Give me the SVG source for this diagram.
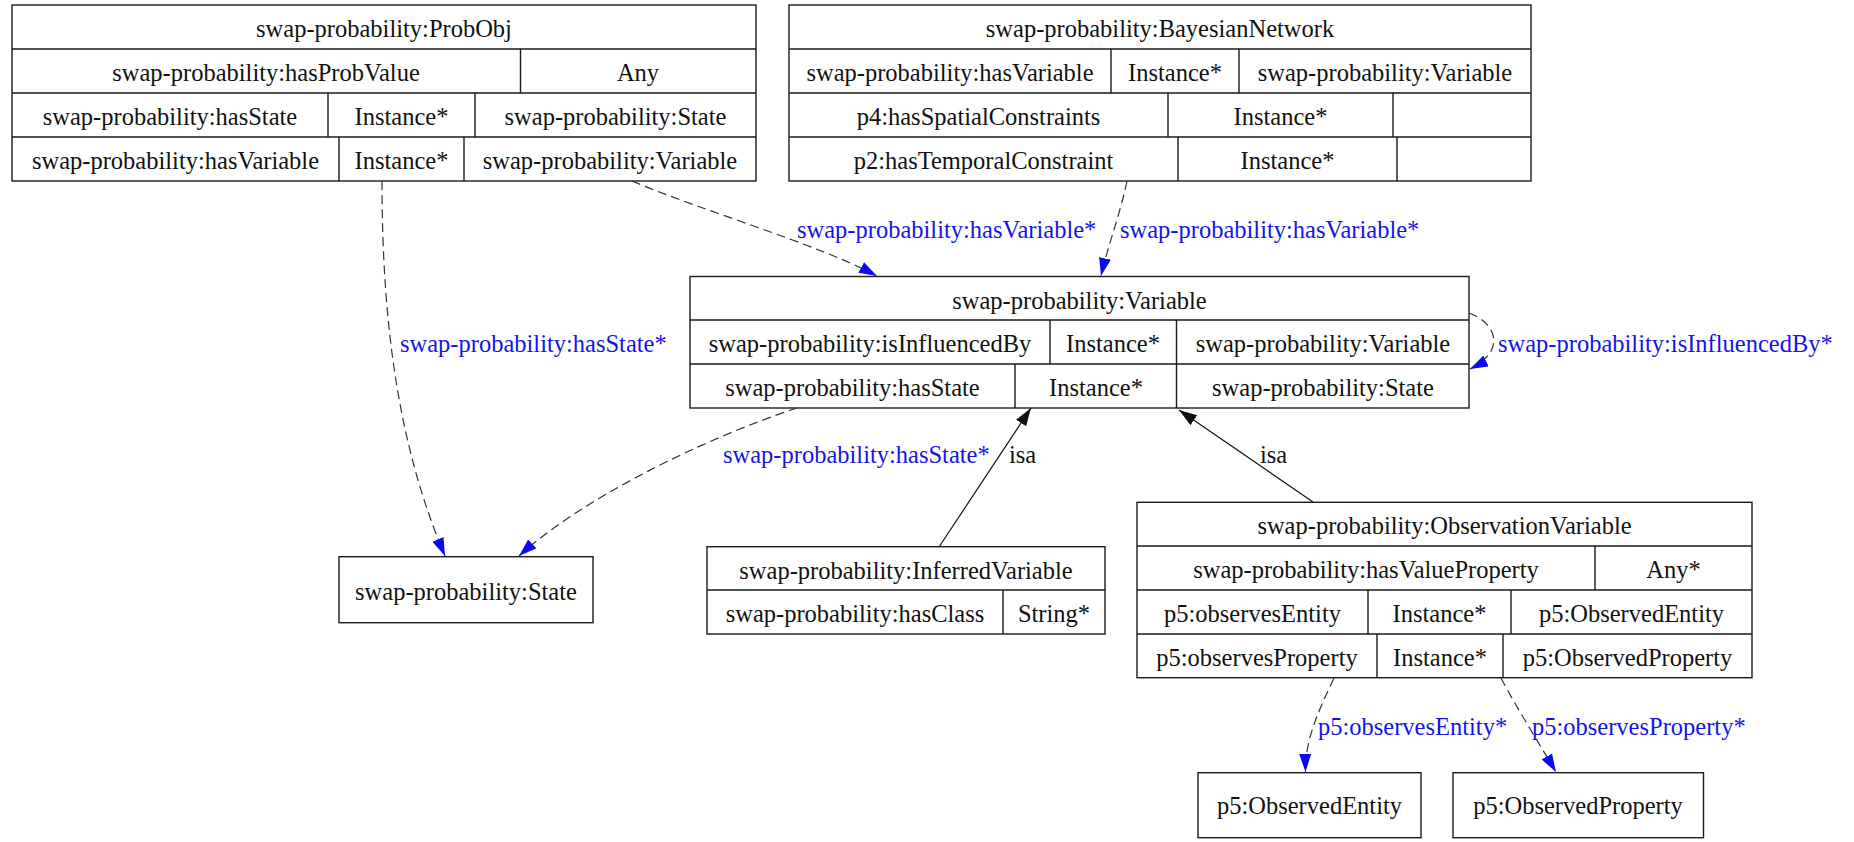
<svg xmlns="http://www.w3.org/2000/svg" width="1854" height="842" viewBox="0 0 1854 842">
  <defs>
    <style>
      .box { fill: #ffffff; stroke: #1a1a1a; stroke-width: 1.4; }
      .div { stroke: #1a1a1a; stroke-width: 1.4; fill: none; }
      text { font-family: "Liberation Serif", "Times New Roman", serif; font-size: 24.5px; fill: #111111; }
      .c { text-anchor: middle; }
      .lbl { fill: #1414e6; }
      .prop { fill: none; stroke: #333333; stroke-width: 1.2; stroke-dasharray: 9 5; marker-end: url(#headBlue); }
      .isa { fill: none; stroke: #111111; stroke-width: 1.2; marker-end: url(#headBlack); }
    </style>
    <marker id="headBlue" markerUnits="userSpaceOnUse" markerWidth="18" markerHeight="12" viewBox="0 0 18 12" refX="18" refY="6" orient="auto">
      <path d="M0,0 L18,6 L0,12 z" fill="#0a0aee"/>
    </marker>
    <marker id="headBlack" markerUnits="userSpaceOnUse" markerWidth="18" markerHeight="12" viewBox="0 0 18 12" refX="18" refY="6" orient="auto">
      <path d="M0,0 L18,6 L0,12 z" fill="#111111"/>
    </marker>
  </defs>

  <rect width="1854" height="842" fill="#ffffff"/>

  <!-- class: ProbObj -->
  <g id="probobj">
    <rect class="box" x="12" y="5" width="744" height="176"/>
    <path class="div" d="M12,49 H756 M12,93 H756 M12,137 H756 M520.5,49 V93 M328,93 V137 M475,93 V137 M339,137 V181 M464,137 V181"/>
    <text class="c" x="384" y="37">swap-probability:ProbObj</text>
    <text class="c" x="266" y="81">swap-probability:hasProbValue</text>
    <text class="c" x="638" y="81">Any</text>
    <text class="c" x="170" y="125">swap-probability:hasState</text>
    <text class="c" x="401.5" y="125">Instance*</text>
    <text class="c" x="615.5" y="125">swap-probability:State</text>
    <text class="c" x="175.5" y="169">swap-probability:hasVariable</text>
    <text class="c" x="401.5" y="169">Instance*</text>
    <text class="c" x="610" y="169">swap-probability:Variable</text>
  </g>

  <!-- class: BayesianNetwork -->
  <g id="bayesiannetwork">
    <rect class="box" x="789" y="5" width="742" height="176"/>
    <path class="div" d="M789,49 H1531 M789,93 H1531 M789,137 H1531 M1111,49 V93 M1239,49 V93 M1168,93 V137 M1393,93 V137 M1178,137 V181 M1397,137 V181"/>
    <text class="c" x="1160" y="37">swap-probability:BayesianNetwork</text>
    <text class="c" x="950" y="81">swap-probability:hasVariable</text>
    <text class="c" x="1175" y="81">Instance*</text>
    <text class="c" x="1385" y="81">swap-probability:Variable</text>
    <text class="c" x="978.5" y="125">p4:hasSpatialConstraints</text>
    <text class="c" x="1280.5" y="125">Instance*</text>
    <text class="c" x="983.5" y="169">p2:hasTemporalConstraint</text>
    <text class="c" x="1287.5" y="169">Instance*</text>
  </g>

  <!-- class: Variable -->
  <g id="variable">
    <rect class="box" x="690" y="276.5" width="779" height="131.5"/>
    <path class="div" d="M690,320 H1469 M690,364 H1469 M1050,320 V364 M1176.5,320 V408 M1015,364 V408"/>
    <text class="c" x="1079.5" y="308.5">swap-probability:Variable</text>
    <text class="c" x="870" y="352">swap-probability:isInfluencedBy</text>
    <text class="c" x="1113" y="352">Instance*</text>
    <text class="c" x="1323" y="352">swap-probability:Variable</text>
    <text class="c" x="852.5" y="396">swap-probability:hasState</text>
    <text class="c" x="1096" y="396">Instance*</text>
    <text class="c" x="1323" y="396">swap-probability:State</text>
  </g>

  <!-- class: State -->
  <g id="state">
    <rect class="box" x="339" y="556.7" width="254" height="66"/>
    <text class="c" x="466" y="599.5">swap-probability:State</text>
  </g>

  <!-- class: InferredVariable -->
  <g id="inferredvariable">
    <rect class="box" x="707" y="546.7" width="398" height="87.3"/>
    <path class="div" d="M707,590 H1105 M1003,590 V634"/>
    <text class="c" x="906" y="578.5">swap-probability:InferredVariable</text>
    <text class="c" x="855" y="622">swap-probability:hasClass</text>
    <text class="c" x="1054" y="622">String*</text>
  </g>

  <!-- class: ObservationVariable -->
  <g id="observationvariable">
    <rect class="box" x="1137" y="502.3" width="615" height="175.4"/>
    <path class="div" d="M1137,546 H1752 M1137,590 H1752 M1137,634 H1752 M1595,546 V590 M1368,590 V634 M1511,590 V634 M1377,634 V677.7 M1503,634 V677.7"/>
    <text class="c" x="1444.5" y="534">swap-probability:ObservationVariable</text>
    <text class="c" x="1366" y="578">swap-probability:hasValueProperty</text>
    <text class="c" x="1673.5" y="578">Any*</text>
    <text class="c" x="1252.5" y="622">p5:observesEntity</text>
    <text class="c" x="1439.5" y="622">Instance*</text>
    <text class="c" x="1631.5" y="622">p5:ObservedEntity</text>
    <text class="c" x="1257" y="666">p5:observesProperty</text>
    <text class="c" x="1440" y="666">Instance*</text>
    <text class="c" x="1627.5" y="666">p5:ObservedProperty</text>
  </g>

  <!-- class: ObservedEntity -->
  <g id="observedentity">
    <rect class="box" x="1198" y="772.7" width="223" height="65"/>
    <text class="c" x="1309.5" y="814">p5:ObservedEntity</text>
  </g>

  <!-- class: ObservedProperty -->
  <g id="observedproperty">
    <rect class="box" x="1453" y="772.7" width="250.5" height="65"/>
    <text class="c" x="1578" y="814">p5:ObservedProperty</text>
  </g>

  <!-- connectors: object properties (dashed, blue heads) and subclass links -->
  <g id="connectors">
    <path class="prop" d="M382,181 C382,330 400,450 445,556"/>
    <path class="prop" d="M632,181 C700,210 820,245 877,276"/>
    <path class="prop" d="M1127,181 C1120,215 1108,245 1101,276"/>
    <path class="prop" d="M1469,313 C1495,322 1508,350 1470,369"/>
    <path class="prop" d="M797,408 C700,440 580,500 519,556"/>
    <path class="isa" d="M939,547 L1031,408"/>
    <path class="isa" d="M1313,502 L1179,410"/>
    <path class="prop" d="M1334,678 C1318,712 1305,740 1305.5,772"/>
    <path class="prop" d="M1501,678 C1515,705 1540,745 1556,772"/>

    <text class="lbl" x="400" y="352">swap-probability:hasState*</text>
    <text class="lbl" x="797" y="238">swap-probability:hasVariable*</text>
    <text class="lbl" x="1120" y="238">swap-probability:hasVariable*</text>
    <text class="lbl" x="1498" y="352">swap-probability:isInfluencedBy*</text>
    <text class="lbl" x="723" y="463">swap-probability:hasState*</text>
    <text x="1009" y="463">isa</text>
    <text x="1260" y="463">isa</text>
    <text class="lbl" x="1318" y="735">p5:observesEntity*</text>
    <text class="lbl" x="1532" y="735">p5:observesProperty*</text>
  </g>
</svg>
